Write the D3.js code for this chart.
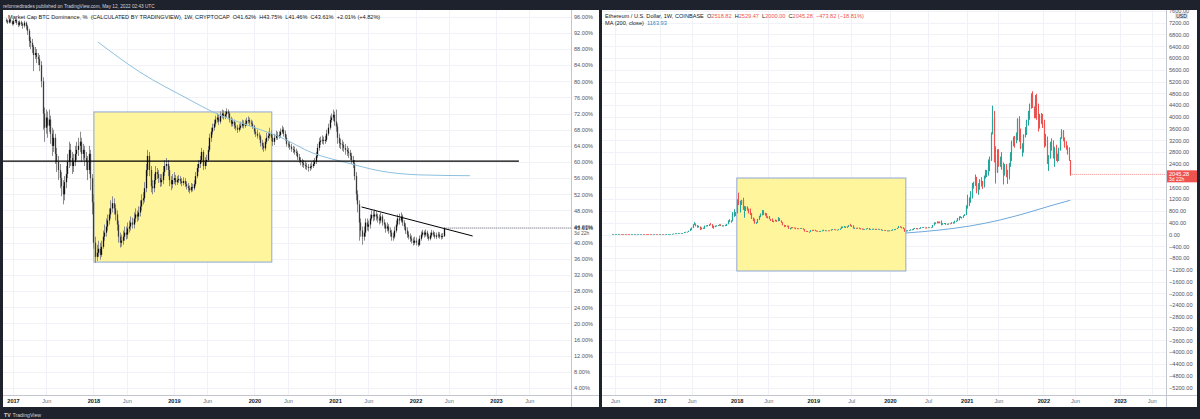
<!DOCTYPE html>
<html>
<head>
<meta charset="utf-8">
<script src="https://d3js.org/d3.v7.min.js"></script>
<style>
  body { margin: 0; background: #1e222d; }
  svg { display: block; font-family: "Liberation Sans", Arial, sans-serif; }
</style>
</head>
<body>
<svg width="1200" height="419"></svg>
<script>
/* globals d3 */

// ---- BTC dominance (%), weekly [high, low, close], weeks from 2016-11-28
const domStart = '2016-11-28';
const domFirstOpen = 95.2;
const dom2016 = [[95.6, 94.5, 95.0], [95.3, 94.2, 94.6], [95.7, 94.3, 95.3], [95.6, 94.4, 94.8], [95.1, 93.8, 94.2]];
const dom2017 = [[95.5, 93.9, 94.9], [95.8, 94.5, 95.2], [95.6, 94.0, 94.5], [95.0, 93.4, 94.0], [95.1, 93.6, 94.6],
    [95.0, 93.7, 94.2], [94.6, 93.0, 93.8], [95.0, 93.3, 94.5], [94.8, 92.8, 93.6], [94.0, 91.5, 92.5],
    [93.0, 88.5, 90.0], [91.0, 88.0, 89.5], [90.5, 87.0, 88.5], [89.0, 82.5, 86.5], [88.5, 85.5, 87.0],
    [88.0, 84.5, 86.0], [87.0, 84.0, 85.5], [86.5, 82.5, 84.0], [85.0, 78.5, 80.0], [81.0, 68.0, 72.0],
    [73.5, 65.0, 68.5], [73.0, 67.0, 71.0], [72.5, 66.0, 69.0], [73.0, 67.5, 70.5], [71.5, 64.5, 67],
    [68.5, 61.5, 64], [68, 62.5, 66], [67, 59.5, 62], [63.5, 57.5, 60], [61.5, 55.5, 58], [59.5, 53.5, 56],
    [57.5, 51.5, 54], [55.5, 49.5, 52], [56.5, 50.5, 55], [59, 53.5, 57], [62, 56, 60], [65, 58.5, 63],
    [64.5, 59, 61], [62.5, 57, 59], [62, 57.5, 60], [64, 59, 62], [65, 60.5, 63], [66, 61.5, 64],
    [67.5, 62.5, 65], [66, 60, 62], [64.5, 60.5, 63], [64, 59, 61], [62.5, 58, 60], [61.5, 55.5, 58],
    [64, 57, 62], [63, 53, 56], [57, 47, 50]];
const dom2018 = [[52, 38.5, 40], [41.5, 35, 36.5], [39.5, 35.5, 37.5], [40.5, 36.5, 38.5], [40, 35.8, 37.0],
    [40.5, 36.5, 39], [43, 38.5, 41.5], [44.5, 40.5, 42.5], [46, 41.5, 44], [47, 43, 45.5], [48.5, 44.5, 47],
    [50.5, 46, 48.5], [51.5, 47.5, 49.8], [51, 47, 48.5], [49.5, 45.5, 47], [48, 43, 44.5], [45.5, 40, 41.5],
    [42.5, 38.8, 40], [42, 39, 40.5], [43, 39.5, 41.5], [44, 40.5, 42.5], [44, 40.8, 42], [45, 41, 43.5],
    [45.5, 42.5, 44], [46.5, 43, 45], [46.2, 43.5, 44.5], [47.5, 43.5, 46], [48.5, 45, 47], [48, 45.2, 46.5],
    [49, 45.5, 47.5], [50.5, 46.5, 49], [52, 48, 50.5], [52.5, 49.5, 51], [55, 50, 53.5], [59.5, 52.5, 58],
    [63, 56.5, 61.5], [62.5, 56.5, 58], [59, 52.5, 54], [55.5, 52, 53.5], [57, 52.5, 55.5], [59, 54.5, 57.5],
    [58.5, 55.8, 57], [58, 54.8, 56], [57, 53.8, 55], [57, 54, 55.5], [59, 54.5, 57.5], [60.5, 56.5, 59],
    [61, 58, 59.5], [60.5, 56.5, 58], [59, 54, 55.5], [56.5, 53, 54.5], [57, 53.5, 55.5], [57.5, 54.5, 56]];
const dom2019 = [[56.8, 54.2, 55.0], [56.5, 54.3, 55.5], [56.8, 54.8, 55.8], [56.5, 54.5, 55.2], [56.0, 54.0, 54.8],
    [56.2, 54.2, 55.3], [56.0, 53.8, 54.5], [55.2, 53.2, 54.0], [54.8, 52.6, 53.5], [54.2, 52.2, 53.0],
    [54.8, 52.5, 53.8], [54.6, 52.7, 53.5], [55.5, 53.0, 54.5], [57.5, 54.0, 56.5], [59.5, 56.0, 58.5],
    [60.5, 57.5, 59.5], [61.5, 58.5, 60.5], [63.5, 59.8, 62.5], [63.0, 58.0, 59.0], [61.2, 58.2, 60.0],
    [61.8, 59.0, 60.5], [64.0, 60.0, 63.0], [67.0, 62.5, 66.0], [68.5, 65.0, 67.5], [69.5, 66.8, 68.5],
    [70.5, 67.8, 69.5], [71.5, 68.8, 70.5], [72.0, 69.8, 71.0], [71.8, 69.2, 70.0], [72.5, 69.5, 71.5],
    [73.0, 70.8, 72.0], [72.8, 70.5, 71.3], [72.6, 70.6, 71.8], [73.3, 71.0, 72.5], [73.0, 71.0, 72.0],
    [72.5, 69.8, 70.5], [71.2, 68.8, 69.5], [70.8, 68.8, 70.0], [70.5, 68.2, 69.0], [69.8, 67.8, 68.5],
    [69.2, 67.2, 68.0], [69.5, 67.5, 68.5], [70.0, 68.0, 69.0], [70.5, 68.5, 69.6], [70.3, 68.3, 69.0],
    [70.5, 68.5, 69.5], [71.0, 69.0, 70.2], [71.3, 69.5, 70.4], [71.0, 69.0, 69.8], [70.5, 68.8, 69.5],
    [70.2, 68.2, 68.8], [69.2, 66.8, 67.5]];
const dom2020 = [[68.3, 66.2, 67.0], [68.0, 65.8, 66.5], [67.3, 65.5, 66.3], [66.8, 63.8, 64.7], [65.5, 63.0, 64.0],
    [64.8, 62.5, 63.4], [65.8, 62.8, 65.0], [67.2, 64.5, 66.0], [67.5, 65.3, 66.5], [68.5, 65.8, 67.0],
    [67.8, 65.2, 66.0], [66.8, 64.0, 65.0], [67.0, 64.2, 66.0], [67.8, 65.5, 66.7], [67.5, 65.5, 66.5],
    [67.6, 65.8, 66.7], [68.3, 66.0, 67.5], [69.0, 67.0, 68.0], [68.6, 66.3, 67.0], [67.8, 65.3, 66.0],
    [66.8, 63.8, 64.5], [65.2, 63.5, 64.3], [65.0, 63.0, 63.8], [64.5, 62.5, 63.2], [64.0, 62.2, 63.0],
    [63.8, 61.8, 62.5], [63.3, 61.5, 62.2], [62.8, 60.5, 61.2], [62.0, 59.8, 60.5], [61.2, 59.2, 60.0],
    [60.8, 58.8, 59.7], [60.5, 58.5, 59.3], [60.2, 58.2, 59.0], [59.8, 58.0, 58.8], [59.5, 57.6, 58.5],
    [59.6, 57.8, 58.8], [60.0, 58.2, 59.0], [60.5, 58.5, 59.5], [61.0, 59.0, 60.0], [62.5, 59.5, 61.5],
    [64.5, 61.0, 63.5], [66.0, 62.8, 65.0], [66.3, 64.2, 65.3], [66.6, 64.5, 65.5], [66.3, 64.3, 65.2],
    [66.5, 64.5, 65.5], [68.0, 65.0, 67.0], [69.5, 66.5, 68.5], [71.5, 68.0, 70.4], [72.0, 69.8, 71.0],
    [73.0, 70.2, 71.7], [72.5, 69.0, 70.0]];
const dom2021 = [[73.0, 67.5, 68.8], [69.5, 64.5, 66.0], [67.0, 63.5, 64.7], [65.8, 63.2, 64.4], [65.5, 62.8, 64.2],
    [65.0, 62.5, 63.5], [64.5, 61.8, 63.0], [64.0, 61.5, 62.6], [63.5, 61.0, 62.2], [63.0, 60.5, 61.5],
    [62.3, 59.5, 60.5], [61.5, 58.5, 59.7], [60.5, 55.5, 56.5], [57.5, 50.5, 52.0], [53.0, 47.5, 49.5],
    [50.5, 40.5, 45.0], [46.0, 41.5, 43.0], [44.0, 39.5, 41.5], [44.0, 40.5, 42.5], [46.0, 41.5, 45.0],
    [46.0, 43.0, 44.0], [45.5, 42.8, 44.5], [47.0, 43.5, 46.0], [48.0, 45.5, 46.9], [47.8, 45.3, 46.5],
    [48.2, 45.5, 47.0], [47.8, 45.5, 46.5], [47.2, 45.0, 46.0], [47.0, 44.5, 45.5], [47.5, 44.8, 46.5],
    [47.0, 44.2, 45.0], [45.8, 43.5, 44.5], [45.0, 42.5, 43.5], [45.0, 42.8, 44.0], [44.6, 42.2, 43.0],
    [43.8, 41.5, 42.5], [43.2, 40.5, 41.5], [42.5, 40.5, 41.5], [44.0, 41.0, 43.0], [45.5, 42.5, 44.5],
    [47.0, 44.0, 46.0], [47.2, 44.5, 45.5], [47.5, 45.0, 46.5], [47.0, 44.2, 45.0], [45.6, 43.2, 44.0],
    [44.8, 42.2, 43.0], [43.8, 41.2, 42.0], [42.8, 40.8, 41.5], [42.3, 40.2, 41.0], [41.8, 39.8, 40.5],
    [41.3, 39.3, 40.0], [41.5, 39.5, 40.5]];
const dom2022 = [[41.3, 39.3, 40.0], [40.8, 39.0, 39.5], [41.8, 39.2, 41.0], [42.8, 40.5, 42.0], [43.2, 41.5, 42.5],
    [43.0, 41.3, 42.0], [43.3, 41.5, 42.5], [43.0, 41.0, 41.5], [42.2, 40.5, 41.0], [42.5, 40.6, 41.8],
    [43.2, 41.3, 42.5], [43.0, 41.5, 42.0], [42.6, 41.0, 41.5], [42.5, 40.9, 41.8], [42.7, 41.2, 42.0],
    [42.6, 41.0, 41.5], [42.3, 40.8, 41.6], [42.4, 41.0, 41.62], [43.75, 41.46, 43.61]];

const domMA = [['2018-01-21', 89.75], ['2018-07-30', 82.3], ['2019-03-14', 75.4], ['2019-06-26', 72.4],
    ['2019-11-27', 69.2], ['2020-04-26', 66.2], ['2020-09-23', 62.2], ['2021-02-24', 59.8],
    ['2021-07-23', 57.8], ['2022-01-21', 56.8], ['2022-09-05', 56.6]];
const domLevel = {from: '2016-10-01', to: '2023-04-15', value: 60.2};
const domTrend = [['2021-05-01', 48.86], ['2022-09-17', 41.67]];
const domBox = {from: '2018-01-03', to: '2020-03-20', low: 35.2, high: 72.4};

// ---- ETH/USD weekly [high, low, close], weeks from 2016-05-16
const ethStart = '2016-05-16';
const ethFirstOpen = 12.8;
const eth2016 = [[14.5, 11.8, 13.2], [13.9, 12.2, 12.5], [14.5, 12.3, 14.0], [18.5, 13.8, 17.5], [21.5, 16.5, 17.8],
    [17.8, 10.0, 13.5], [14.5, 11.5, 12.3], [12.5, 10.2, 10.5], [12.4, 10.2, 12.0], [14.8, 11.8, 14.0],
    [14.5, 11.5, 12.6], [12.8, 8.3, 10.8], [12.0, 10.5, 11.7], [11.9, 10.8, 11.2], [11.5, 10.8, 11.2],
    [12.2, 11.0, 12.0], [12.3, 11.6, 11.9], [13.0, 11.8, 12.6], [13.5, 12.4, 13.2], [13.5, 12.9, 13.2],
    [13.3, 11.8, 12.0], [12.2, 11.7, 12.0], [12.3, 11.8, 11.8], [11.9, 10.8, 11.1], [11.2, 10.5, 10.8],
    [11.2, 9.7, 10.0], [10.3, 9.5, 9.8], [9.9, 8.1, 8.5], [8.8, 7.6, 8.0], [8.6, 7.7, 8.3], [8.4, 7.6, 7.9],
    [8.0, 6.9, 7.2], [8.4, 7.0, 8.0]];
const eth2017 = [[10.5, 7.9, 10.2], [10.6, 9.5, 9.8], [10.9, 9.7, 10.7], [10.8, 10.3, 10.6],
    [11.4, 10.5, 11.3], [11.8, 11.0, 11.5], [13.0, 11.3, 12.8], [13.5, 12.5, 13.2],
    [19.5, 13.1, 19.0], [29.0, 18.5, 28.5], [35.0, 26.0, 33.5], [53.0, 32.0, 50.0],
    [53.5, 46.0, 50.5], [51.0, 42.0, 44.0], [50.0, 43.5, 48.5], [50.5, 46.5, 49.0], [80.0, 48.5, 77.0],
    [90, 74, 89], [92, 82, 88], [125, 87, 123], [200, 120, 173], [235, 150, 232],
    [345, 220, 340], [420, 330, 358], [380, 275, 296], [320, 230, 262],
    [300, 250, 262], [270, 150, 180], [240, 175, 225], [230, 190, 200], [300, 200, 295],
    [310, 280, 300], [320, 285, 300], [345, 290, 340], [390, 330, 335],
    [350, 220, 297], [300, 195, 252], [300, 250, 295], [305, 280, 300],
    [315, 290, 308], [345, 300, 334], [345, 290, 297], [310, 285, 297], [310, 290, 300],
    [330, 290, 317], [360, 290, 354], [480, 350, 465], [520, 420, 466],
    [480, 400, 452], [760, 450, 700], [860, 600, 710], [760, 630, 750]];
const eth2018 = [[1200, 720, 1150], [1420, 1000, 1020], [1150, 750, 1050], [1180, 1000, 1170], [1250, 840, 850],
    [970, 570, 860], [960, 800, 935], [960, 810, 870], [880, 720, 725],
    [880, 660, 690], [735, 530, 540], [580, 450, 470], [540, 365, 380],
    [420, 360, 410], [530, 390, 510], [635, 500, 620], [710, 590, 675], [830, 650, 750],
    [830, 660, 680], [740, 640, 705], [720, 570, 580], [620, 550, 600],
    [630, 520, 525], [530, 460, 500], [545, 425, 455], [470, 415, 455],
    [510, 450, 475], [490, 430, 470], [590, 450, 545], [555, 460, 470], [470, 400, 405],
    [420, 320, 320], [330, 250, 290], [320, 265, 280], [300, 275, 295],
    [300, 190, 195], [225, 170, 222], [250, 200, 245], [245, 215, 232],
    [235, 215, 225], [230, 180, 205], [215, 195, 204], [210, 190, 203], [215, 195, 212],
    [225, 200, 205], [210, 170, 175], [180, 100, 115], [125, 100, 112],
    [120, 83, 85], [93, 82, 85], [145, 85, 140], [158, 125, 135], [160, 130, 155]];
const eth2019 = [[160, 115, 125], [130, 115, 122], [125, 108, 110], [112, 100, 106],
    [122, 102, 120], [140, 118, 135], [165, 132, 138], [145, 125, 133],
    [140, 128, 135], [140, 130, 134], [142, 130, 137], [168, 132, 165],
    [185, 160, 180], [185, 160, 165], [175, 155, 160], [160, 150, 155], [175, 152, 170],
    [200, 165, 200], [275, 195, 235], [270, 225, 250], [290, 240, 265],
    [270, 225, 235], [275, 230, 270], [320, 265, 310], [365, 280, 290],
    [320, 280, 290], [315, 210, 210], [235, 190, 215], [230, 205, 205], [230, 205, 225],
    [235, 200, 200], [215, 180, 195], [200, 180, 190], [195, 170, 178],
    [185, 170, 180], [200, 175, 197], [225, 195, 215], [215, 160, 167], [185, 160, 178],
    [195, 175, 190], [195, 170, 175], [195, 158, 185], [195, 178, 182],
    [195, 180, 187], [190, 175, 183], [185, 140, 150], [160, 138, 152],
    [155, 145, 148], [150, 125, 132], [135, 117, 128], [135, 125, 132], [140, 125, 130]];
const eth2020 = [[145, 127, 143], [175, 140, 167], [175, 155, 170], [190, 160, 189],
    [225, 185, 223], [290, 220, 265], [285, 240, 250], [260, 210, 217],
    [250, 195, 199], [205, 90, 124], [140, 110, 130], [140, 125, 131], [145, 125, 143],
    [175, 140, 158], [175, 150, 170], [200, 150, 197], [225, 190, 210],
    [215, 180, 188], [215, 185, 200], [215, 195, 208], [245, 200, 240],
    [250, 235, 245], [250, 225, 232], [240, 220, 230], [245, 220, 226], [245, 225, 242],
    [245, 235, 240], [245, 230, 238], [325, 235, 320], [415, 310, 395],
    [410, 360, 394], [445, 380, 430], [440, 380, 393], [440, 380, 430], [480, 310, 353],
    [385, 330, 375], [390, 355, 385], [390, 330, 355], [365, 340, 345],
    [375, 340, 370], [385, 365, 367], [415, 365, 410], [415, 370, 385],
    [470, 380, 455], [475, 440, 460], [560, 450, 550], [620, 480, 575], [620, 560, 590],
    [600, 540, 585], [650, 570, 640], [690, 630, 685], [990, 660, 975]];
const eth2021 = [[1350, 880, 1040], [1260, 970, 1230], [1475, 1080, 1375], [1750, 1225, 1700],
    [1790, 1560, 1780], [2040, 1650, 1930], [1960, 1400, 1480], [1740, 1350, 1730],
    [1880, 1520, 1840], [1950, 1630, 1800], [1820, 1550, 1690], [2000, 1600, 1990],
    [2200, 1900, 2080], [2190, 1950, 2150], [2550, 2000, 2300], [2650, 2150, 2530], [3470, 2500, 3430],
    [4380, 3400, 3950], [4200, 2700, 2450], [3000, 1730, 2100], [2900, 2100, 2700],
    [2900, 2300, 2340], [2650, 2300, 2500], [2800, 2200, 2240], [2450, 1700, 2080], [2400, 2000, 2320],
    [2400, 1950, 2030], [2200, 1720, 2140], [2430, 1870, 2390], [2800, 2300, 2720],
    [3190, 2500, 3150], [3330, 3000, 3280], [3350, 2950, 3240], [3470, 3100, 3430], [3950, 3200, 3930],
    [4020, 3150, 3400], [3600, 2900, 2930], [3100, 2650, 3000], [3400, 2780, 3390],
    [3650, 3300, 3410], [3900, 3380, 3850], [4200, 3700, 4170], [4450, 3900, 4290],
    [4800, 4280, 4730], [4870, 4300, 4300], [4350, 3950, 4090], [4740, 3950, 4630], [4780, 3900, 4120],
    [4450, 3500, 3960], [4100, 3600, 4050], [4130, 3750, 3800], [4100, 3620, 3770]];
const eth2022 = [[3900, 2950, 3150], [3420, 3000, 3220], [3330, 2400, 2420], [2700, 2160, 2600],
    [3150, 2580, 3120], [3270, 2850, 2880], [3200, 2580, 2600], [2980, 2300, 2920],
    [3050, 2500, 2570], [2750, 2450, 2520], [2950, 2500, 2850], [3300, 2900, 3290], [3580, 3250, 3520],
    [3550, 3170, 3210], [3300, 2950, 2990], [3170, 2880, 2940], [3030, 2720, 2730],
    [2960, 2500, 2518.82], [2529.47, 2000, 2045.28]];

const ethMA = [['2020-03-17', 51], ['2020-08-26', 153], ['2021-01-16', 289], ['2021-06-08', 493],
    ['2021-10-29', 765], ['2022-02-01', 969], ['2022-05-09', 1164]];
const ethBox = {from: '2018-01-02', to: '2020-03-17', low: -1240, high: 1920};

// ---- axis labels
const domTicks = [96, 92, 88, 84, 80, 76, 72, 68, 64, 60, 56, 52, 48, 44, 40, 36, 32, 28, 24, 20, 16, 12, 8, 4];
const ethTicks = [7600, 7200, 6800, 6400, 6000, 5600, 5200, 4800, 4400, 4000, 3600, 3200, 2800, 2400,
    1600, 1200, 800, 400, 0, -400, -800, -1200, -1600, -2000, -2400, -2800, -3200, -3600, -4000,
    -4400, -4800, -5200];
const domDates = [['2017-01-01', '2017'], ['2017-06-01', 'Jun'], ['2018-01-01', '2018'], ['2018-06-01', 'Jun'],
    ['2019-01-01', '2019'], ['2019-06-01', 'Jun'], ['2020-01-01', '2020'], ['2020-06-01', 'Jun'],
    ['2021-01-01', '2021'], ['2021-06-01', 'Jun'], ['2022-01-01', '2022'], ['2022-06-01', 'Jun'],
    ['2023-01-01', '2023'], ['2023-06-01', 'Jun']];
const ethDates = [['2016-06-01', 'Jun'], ['2017-01-01', '2017'], ['2017-06-01', 'Jun'], ['2018-01-01', '2018'],
    ['2018-06-01', 'Jun'], ['2019-01-01', '2019'], ['2019-07-01', 'Jul'], ['2020-01-01', '2020'],
    ['2020-07-01', 'Jul'], ['2021-01-01', '2021'], ['2021-06-01', 'Jun'], ['2022-01-01', '2022'],
    ['2022-06-01', 'Jun'], ['2023-01-01', '2023'], ['2023-06-01', 'Jun']];

const parse = d3.timeParse('%Y-%m-%d');
const FONT = '"Liberation Sans", Arial, sans-serif';
const GRID = '#f0f2f7';

const svg = d3.select('svg');
svg.append('rect').attr('width', 1200).attr('height', 419).attr('fill', '#1e222d');

// panel geometry
const left = {x0: 3, x1: 599, plotR: 571, top: 10, axisY: 395.5, bottom: 407};
const right = {x0: 602, x1: 1197, plotR: 1166, top: 10, axisY: 395.5, bottom: 407};

const xL = d3.scaleTime().domain([parse('2017-01-01'), parse('2023-01-01')]).range([13, 496]);
const yL = d3.scaleLinear().domain([4, 96]).range([388, 16.7]);
const xR = d3.scaleTime().domain([parse('2017-01-01'), parse('2023-01-01')]).range([660, 1120]);
const yR = d3.scaleLinear().domain([-5200, 7600]).range([387.5, 10.9]);

const defs = svg.append('defs');
[left, right].forEach((p, i) => {
    svg.append('rect')
    .attr('x', p.x0).attr('y', p.top)
    .attr('width', p.x1 - p.x0).attr('height', p.bottom - p.top)
    .attr('fill', '#fff');
    defs.append('clipPath').attr('id', 'clip' + i)
    .append('rect')
    .attr('x', p.x0).attr('y', p.top)
    .attr('width', p.plotR - p.x0).attr('height', p.axisY - p.top);
});

function grid(p, x, y, yTicks, dates) {
    const g = svg.append('g').attr('clip-path', 'url(#clip' + (p === left ? 0 : 1) + ')');
    g.selectAll('line.h').data(yTicks).join('line')
    .attr('x1', p.x0).attr('x2', p.plotR)
    .attr('y1', d => Math.round(y(d)) + 0.5).attr('y2', d => Math.round(y(d)) + 0.5)
    .attr('stroke', GRID).attr('stroke-width', 1);
    g.selectAll('line.v').data(dates).join('line')
    .attr('x1', d => Math.round(x(parse(d[0]))) + 0.5).attr('x2', d => Math.round(x(parse(d[0]))) + 0.5)
    .attr('y1', p.top).attr('y2', p.axisY)
    .attr('stroke', GRID).attr('stroke-width', 1);
}
grid(left, xL, yL, domTicks, domDates);
grid(right, xR, yR, ethTicks, ethDates);

function axes(p, x, y, yTicks, fmt, dates) {
    const ga = svg.append('g')
    .attr('transform', 'translate(' + p.plotR + ',0)')
    .call(d3.axisRight(y).tickValues(yTicks).tickSize(0).tickPadding(3).tickFormat(fmt));
    ga.select('.domain').remove();
    ga.attr('font-family', FONT).attr('font-size', 5.6);
    ga.selectAll('text').attr('fill', '#50535e');

    const gb = svg.append('g')
    .attr('transform', 'translate(0,' + p.axisY + ')')
    .call(d3.axisBottom(x).tickValues(dates.map(d => parse(d[0]))).tickSize(0).tickPadding(3.5)
    .tickFormat((d, i) => dates[i][1]));
    gb.select('.domain').remove();
    gb.attr('font-family', FONT).attr('font-size', 5.6);
    gb.selectAll('text')
    .attr('fill', (d, i) => dates[i][1].length === 4 ? '#131722' : '#6a6d78')
    .attr('font-weight', (d, i) => dates[i][1].length === 4 ? 'bold' : 'normal');

    svg.append('line')
    .attr('x1', p.plotR + 0.5).attr('x2', p.plotR + 0.5)
    .attr('y1', p.top).attr('y2', p.bottom)
    .attr('stroke', '#c3c6ce');
    svg.append('line')
    .attr('x1', p.x0).attr('x2', p.x1)
    .attr('y1', p.axisY).attr('y2', p.axisY)
    .attr('stroke', '#c3c6ce');
}
axes(left, xL, yL, domTicks, d => d.toFixed(2) + '%', domDates);
axes(right, xR, yR, ethTicks, d => (d < 0 ? '\u2212' : '') + Math.abs(d).toFixed(2), ethDates);

function box(g, b, x, y) {
    g.append('rect')
    .attr('x', x(parse(b.from))).attr('y', y(b.high))
    .attr('width', x(parse(b.to)) - x(parse(b.from)))
    .attr('height', y(b.low) - y(b.high))
    .attr('fill', '#fff59d').attr('stroke', '#8fa6d8').attr('stroke-width', 1);
}

function candles(g, rows, firstOpen, start, x, y, upCol, downCol, wickCol, bodyW) {
    const t0 = parse(start);
    let prev = firstOpen;
    const bars = rows.map((r, i) => {
        const b = {t: d3.timeWeek.offset(t0, i), o: prev, h: r[0], l: r[1], c: r[2]};
        prev = r[2];
        return b;
    });
    g.append('g').selectAll('line').data(bars).join('line')
    .attr('x1', b => Math.round(x(b.t)) + 0.5).attr('x2', b => Math.round(x(b.t)) + 0.5)
    .attr('y1', b => y(b.h)).attr('y2', b => y(b.l))
    .attr('stroke', b => wickCol || (b.c >= b.o ? upCol : downCol)).attr('stroke-width', 1);
    g.append('g').selectAll('rect').data(bars).join('rect')
    .attr('x', b => Math.round(x(b.t)) + 0.5 - bodyW / 2)
    .attr('y', b => y(Math.max(b.o, b.c)))
    .attr('width', bodyW)
    .attr('height', b => Math.max(0.7, Math.abs(y(b.o) - y(b.c))))
    .attr('fill', b => b.c >= b.o ? upCol : downCol);
    return bars;
}

function legend(x0, y0, parts) {
    const t = svg.append('text').attr('x', x0).attr('y', y0)
    .attr('font-family', FONT).attr('font-size', 5.6).attr('xml:space', 'preserve');
    parts.forEach(p => t.append('tspan').attr('fill', p[1]).text(p[0]));
}

// ---- left panel: BTC dominance
legend(8, 19, [['Market Cap BTC Dominance, %  (CALCULATED BY TRADINGVIEW), 1W, CRYPTOCAP  ', '#131722'],
    ['O', '#131722'], ['41.62%  ', '#131722'], ['H', '#131722'], ['43.75%  ', '#131722'],
    ['L', '#131722'], ['41.46%  ', '#131722'], ['C', '#131722'], ['43.61%  ', '#131722'],
    ['+2.01% (+4.82%)', '#131722']]);

const gL = svg.append('g').attr('clip-path', 'url(#clip0)');
box(gL, domBox, xL, yL);
const domAll = dom2016.concat(dom2017, dom2018, dom2019, dom2020, dom2021, dom2022);
const domBars = candles(gL, domAll, domFirstOpen, domStart, xL, yL, '#111', '#3c3c3c', '#8c8c8c', 1.3);

gL.append('path')
.datum(domMA)
.attr('d', d3.line().curve(d3.curveMonotoneX).x(d => xL(parse(d[0]))).y(d => yL(d[1])))
.attr('fill', 'none').attr('stroke', '#8cc0de').attr('stroke-width', 1);

gL.append('line')
.attr('x1', xL(parse(domLevel.from))).attr('x2', xL(parse(domLevel.to)))
.attr('y1', yL(domLevel.value)).attr('y2', yL(domLevel.value))
.attr('stroke', '#000').attr('stroke-width', 1.2);

gL.append('line')
.attr('x1', xL(parse(domTrend[0][0]))).attr('y1', yL(domTrend[0][1]))
.attr('x2', xL(parse(domTrend[1][0]))).attr('y2', yL(domTrend[1][1]))
.attr('stroke', '#000').attr('stroke-width', 1);

const lastDom = domBars[domBars.length - 1];
gL.append('line')
.attr('x1', xL(lastDom.t)).attr('x2', left.plotR)
.attr('y1', yL(lastDom.c)).attr('y2', yL(lastDom.c))
.attr('stroke', '#131722').attr('stroke-dasharray', '1,1').attr('stroke-width', 0.6);
svg.append('text').attr('x', left.plotR + 3).attr('y', yL(lastDom.c) + 2)
.attr('font-family', FONT).attr('font-size', 5.6).attr('fill', '#131722')
.text(lastDom.c.toFixed(2) + '%');
svg.append('text').attr('x', left.plotR + 3).attr('y', yL(lastDom.c) + 7)
.attr('font-family', FONT).attr('font-size', 5).attr('fill', '#50535e')
.text('3d 22h');

// ---- right panel: ETH/USD
legend(605, 18, [['Ethereum / U.S. Dollar, 1W, COINBASE  ', '#131722'],
    ['O', '#131722'], ['2518.82  ', '#ef5350'], ['H', '#131722'], ['2529.47  ', '#ef5350'],
    ['L', '#131722'], ['2000.00  ', '#ef5350'], ['C', '#131722'], ['2045.28  ', '#ef5350'],
    ['\u2212473.82 (\u221218.81%)', '#ef5350']]);
legend(605, 25, [['MA (200, close)  ', '#131722'], ['1163.93', '#2e86c1']]);

const gR = svg.append('g').attr('clip-path', 'url(#clip1)');
box(gR, ethBox, xR, yR);
const ethAll = eth2016.concat(eth2017, eth2018, eth2019, eth2020, eth2021, eth2022);
const ethBars = candles(gR, ethAll, ethFirstOpen, ethStart, xR, yR, '#26a69a', '#ef5350', null, 1.2);

gR.append('path')
.datum(ethMA)
.attr('d', d3.line().curve(d3.curveMonotoneX).x(d => xR(parse(d[0]))).y(d => yR(d[1])))
.attr('fill', 'none').attr('stroke', '#6fa8dc').attr('stroke-width', 1);

const lastEth = ethBars[ethBars.length - 1];
gR.append('line')
.attr('x1', xR(lastEth.t)).attr('x2', right.plotR)
.attr('y1', yR(lastEth.c)).attr('y2', yR(lastEth.c))
.attr('stroke', '#ef5350').attr('stroke-dasharray', '1,1').attr('stroke-width', 0.7);
svg.append('rect').attr('x', right.plotR + 1).attr('y', yR(lastEth.c) - 4)
.attr('width', 30).attr('height', 12).attr('fill', '#ef5350');
svg.append('text').attr('x', right.plotR + 3).attr('y', yR(lastEth.c) + 2)
.attr('font-family', FONT).attr('font-size', 5.6).attr('fill', '#fff')
.text(lastEth.c.toFixed(2));
svg.append('text').attr('x', right.plotR + 3).attr('y', yR(lastEth.c) + 6.8)
.attr('font-family', FONT).attr('font-size', 5).attr('fill', '#fff')
.text('3d 22h');

// currency tag
svg.append('rect').attr('x', right.plotR + 9).attr('y', 13).attr('width', 13).attr('height', 6)
.attr('fill', '#e0e3eb');
svg.append('text').attr('x', right.plotR + 15.5).attr('y', 17.7).attr('text-anchor', 'middle')
.attr('font-family', FONT).attr('font-size', 5).attr('fill', '#131722').text('USD');

// ---- top and bottom bars
svg.append('rect').attr('width', 1200).attr('height', 10).attr('fill', '#1e222d');
svg.append('text').attr('x', 3).attr('y', 7.6)
.attr('font-family', FONT).attr('font-size', 4.7).attr('fill', '#d1d4dc')
.text('reformedtrades published on TradingView.com, May 12, 2022 02:43 UTC');
svg.append('rect').attr('y', 407).attr('width', 1200).attr('height', 12).attr('fill', '#1e222d');
svg.append('text').attr('x', 4).attr('y', 416.5)
.attr('font-family', FONT).attr('font-size', 5.2).attr('font-weight', 'bold').attr('fill', '#d1d4dc')
.text('TV');
svg.append('text').attr('x', 12.5).attr('y', 416.5)
.attr('font-family', FONT).attr('font-size', 5.2).attr('fill', '#d1d4dc')
.text('TradingView');
</script>
</body>
</html>
